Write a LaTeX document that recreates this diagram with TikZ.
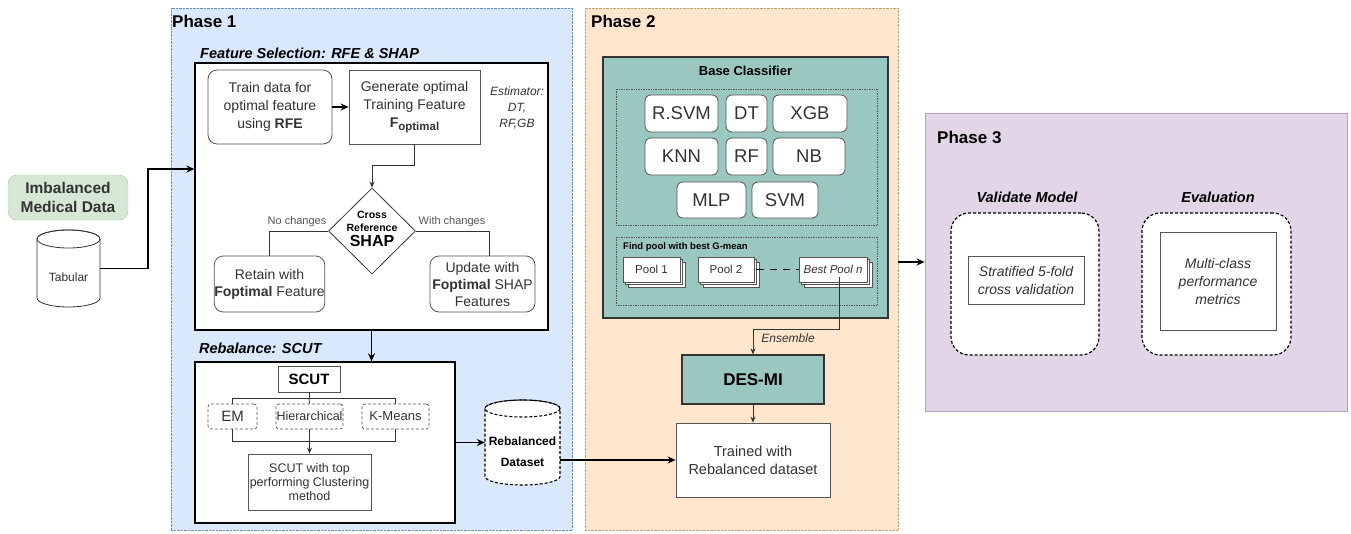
\documentclass[tikz,border=0pt]{standalone}
\usepackage{fontspec}
\setmainfont{Liberation Sans}
\usetikzlibrary{shapes.geometric,shadows,arrows.meta,calc}
\definecolor{pAfill}{HTML}{DAE8FC}
\definecolor{pAline}{HTML}{6C8EBF}
\definecolor{pBfill}{HTML}{FFE6CC}
\definecolor{pBline}{HTML}{C8A070}
\definecolor{pCfill}{HTML}{E1D5E7}
\definecolor{pCline}{HTML}{B79FC6}
\definecolor{tealbox}{HTML}{9AC7BF}
\definecolor{gfill}{HTML}{D5E8D4}
\definecolor{gline}{HTML}{A9CC98}
\definecolor{ink}{HTML}{333333}
\definecolor{edge}{HTML}{555555}
\newcommand\fsz[2]{\fontsize{#1}{#2}\selectfont}
\begin{document}
\begin{tikzpicture}[x=1pt,y=-1pt,
  every node/.style={inner sep=0pt, text=ink},
  sz/.style 2 args={minimum width=#1, minimum height=#2},
  plain/.style={draw=edge, fill=white, line width=0.8pt},
  rnd/.style={plain, rounded corners=9pt},
  main/.style={draw=black, fill=white, line width=1.3pt},
  dbox/.style={draw=edge, densely dashed, fill=white, rounded corners=3pt, line width=0.7pt},
  cls/.style={rnd, draw=edge, rounded corners=6pt, font=\fsz{18.5}{20}},
  pool/.style={plain, font=\fsz{11.5}{13}, double copy shadow={shadow xshift=2.5pt, shadow yshift=-2.5pt, draw=edge, fill=white}},
  big/.style={-{Stealth[length=8pt,width=7pt]}, line width=1.4pt, draw=black},
  conn/.style={draw=ink, line width=0.8pt},
  tip/.style={-{Stealth[length=6pt,width=5pt]}},
  title/.style={font=\bfseries\itshape\fsz{14.5}{16}, text=black},
  phase/.style={font=\bfseries\fsz{17}{19}, text=black, anchor=west},
  vbox/.style={draw=black, densely dashed, line width=1.2pt, fill=white, rounded corners=18pt}
]
\useasboundingbox (0,0) rectangle (1351,533);

% phase panels
\node[sz={401}{522}, fill=pAfill, draw=pAline, densely dotted] (ph1) at (371.5,269) {};
\node[sz={313}{522}, fill=pBfill, draw=pBline, densely dotted] (ph2) at (741.5,269) {};
\node[sz={422}{298}, fill=pCfill, draw=pCline, line width=0.8pt] (ph3) at (1136,262) {};
\node[phase] (lp1) at (172,21) {Phase 1};
\node[phase] (lp2) at (591,21) {Phase 2};
\node[phase] (lp3) at (937,137) {Phase 3};

% input data
\node[sz={120}{45}, fill=gfill, draw=gline, rounded corners=9pt, align=center,
      font=\bfseries\fsz{15.5}{19}] (imb) at (68,197.5) {Imbalanced\\Medical Data};
\node[sz={63}{77}] (tab) at (68.5,268.5) {};
\draw[draw=ink, fill=white, line width=0.8pt] (37,239) -- (37,298)
  arc[start angle=180, end angle=0, x radius=31.5, y radius=9] -- (100,239)
  arc[start angle=0, end angle=-180, x radius=31.5, y radius=9] -- cycle;
\draw[draw=ink, line width=0.8pt] (68.5,239) ellipse[x radius=31.5, y radius=9];
\node[font=\fsz{12}{14}] (tabtxt) at (68.5,277) {Tabular};

% feature selection
\node[title, anchor=west] (fstitle) at (200,53) {Feature Selection: RFE \& SHAP};
\node[main, sz={353}{267}] (fs) at (371.5,196.5) {};
\node[rnd, sz={124}{74}, align=center, font=\fsz{14}{18}] (train) at (270,107)
  {Train data for\\optimal feature\\using \textbf{RFE}};
\node[plain, sz={131}{74}, align=center, font=\fsz{14}{18}] (gen) at (414.5,107)
  {Generate optimal\\Training Feature\\\textbf{F\raisebox{-0.45ex}{\fsz{11.5}{12}optimal}}};
\node[align=center, font=\itshape\fsz{12}{16}] (est) at (517,108) {Estimator:\\DT,\\RF,GB};
\node[diamond, draw=ink, fill=white, line width=0.8pt, sz={87}{86}] (dia) at (372,231) {};
\node[align=center, font=\bfseries\fsz{10.5}{13}, text=black] (diatxt) at (372,229)
  {Cross\\Reference\\[2pt]{\fsz{16}{17}SHAP}};
\node[rnd, sz={105}{56}, align=center, font=\fsz{14}{17}] (retain) at (269.5,284)
  {Retain with\\\textbf{Foptimal} Feature};
\node[rnd, sz={105}{56}, align=center, font=\fsz{14}{17}] (update) at (482.5,284)
  {Update with\\\textbf{Foptimal} SHAP\\Features};
\node[font=\fsz{11}{13}, text=edge] (nochg) at (297,222) {No changes};
\node[font=\fsz{11}{13}, text=edge] (withchg) at (452,222) {With changes};

\draw[big] (train.east) -- (gen.west);
\draw[conn, tip, line width=1pt] (gen.south) -- ++(0,21) -| (dia.north);
\draw[conn] (dia.west) -| (retain.north);
\draw[conn] (dia.east) -| ([xshift=6.5pt]update.north);

% rebalance
\node[title, anchor=west] (rbtitle) at (199,348) {Rebalance: SCUT};
\node[main, sz={260}{161}] (rebox) at (325,442.5) {};
\node[plain, sz={62}{26}, font=\bfseries\fsz{15}{17}, text=black] (scut) at (309,379) {SCUT};
\node[dbox, sz={49}{25}, font=\fsz{15}{17}] (em) at (232.5,416.5) {EM};
\node[dbox, sz={67}{25}, font=\fsz{12.5}{14}] (hier) at (309.5,416.5) {Hierarchical};
\node[dbox, sz={67}{25}, font=\fsz{13}{15}] (km) at (395.5,416.5) {K-Means};
\node[plain, sz={123}{56}, align=center, font=\fsz{12.5}{14}] (scutw) at (309.5,482)
  {SCUT with top\\performing Clustering\\method};
\draw[conn] (scut.south) -- ++(0,6) coordinate (j1);
\draw[conn] (em.north) |- (j1) -| (km.north);
\draw[conn] (hier.north) -- (j1);
\draw[conn] (em.south) -- ++(0,12) coordinate (j2) -| (km.south);
\draw[conn, tip] (hier.south) -- (scutw.north);

% rebalanced dataset
\node[sz={75}{85}] (rebal) at (522.5,442.5) {};
\draw[draw=black, fill=white, densely dashed, line width=1.1pt] (485,408.5) -- (485,476.5)
  arc[start angle=180, end angle=0, x radius=37.5, y radius=8.5] -- (560,408.5)
  arc[start angle=0, end angle=-180, x radius=37.5, y radius=8.5] -- cycle;
\draw[draw=black, densely dashed, line width=1.1pt] (522.5,408.5) ellipse[x radius=37.5, y radius=8.5];
\node[align=center, font=\bfseries\fsz{12}{21}, text=black] (rebtxt) at (522.5,452) {Rebalanced\\Dataset};

% base classifiers
\node[sz={285}{261}, fill=tealbox, draw=black!80, line width=1.1pt] (base) at (745.5,187.5) {};
\node[font=\bfseries\fsz{13}{15}, text=black] (basetxt) at (745.5,71) {Base Classifier};
\node[sz={261}{136}, draw=edge, densely dotted, line width=0.7pt] (grpA) at (746.5,157) {};
\node[sz={261}{68}, draw=edge, densely dotted, line width=0.7pt] (grpB) at (746.5,271) {};
\node[cls, sz={73}{37}] (rsvm) at (681.5,113.5) {R.SVM};
\node[cls, sz={41}{37}] (dt) at (746.5,113.5) {DT};
\node[cls, sz={74}{37}] (xgb) at (810,113.5) {XGB};
\node[cls, sz={73}{37}] (knn) at (681.5,156.5) {KNN};
\node[cls, sz={41}{37}] (rf) at (746.5,156.5) {RF};
\node[cls, sz={72}{37}] (nb) at (809,156.5) {NB};
\node[cls, sz={69}{36}] (mlp) at (711.5,200) {MLP};
\node[cls, sz={66}{36}] (svm) at (785,200) {SVM};
\node[anchor=west, font=\bfseries\fsz{9.5}{11}, text=black] (findtxt) at (623,247) {Find pool with best G-mean};
\node[pool, sz={57}{25}] (pa) at (651.5,269.5) {Pool 1};
\node[pool, sz={56}{25}] (pb) at (726,269.5) {Pool 2};
\node[pool, sz={68}{25}, font=\itshape\fsz{11.5}{13}] (pn) at (833,269.5) {Best Pool \textit{n}};
\draw[draw=black, line width=1.6pt, dash pattern=on 7pt off 6pt] ([xshift=3pt]pb.east) -- (pn.west);

% ensemble
\node[sz={142}{49}, fill=tealbox, draw=black!80, line width=1.1pt, font=\bfseries\fsz{17}{19}, text=black] (desmi) at (753,379.5) {DES-MI};
\node[plain, sz={154}{74}, align=center, font=\fsz{14.5}{18}] (trained) at (753,460) {Trained with\\Rebalanced dataset};
\draw[conn, tip] ([xshift=6pt, yshift=5pt]pn.south) |- ($(desmi.north)+(0,-25)$) -- (desmi.north);
\node[font=\itshape\fsz{12}{14}] (ens) at (788,338) {Ensemble};
\draw[conn, tip] (desmi.south) -- (trained.north);

% phase 3
\node[title] (vtitle) at (1027,197) {Validate Model};
\node[title] (etitle) at (1218,197) {Evaluation};
\node[vbox, sz={148}{142}] (vbox) at (1025,284) {};
\node[vbox, sz={149}{142}] (ebox) at (1216.5,284) {};
\node[plain, sz={116}{48}, align=center, font=\itshape\fsz{14}{18}] (strat) at (1026,280)
  {Stratified 5-fold\\cross validation};
\node[plain, sz={116}{98}, align=center, font=\itshape\fsz{14}{18}] (multi) at (1218,281)
  {Multi-class\\performance\\metrics};

% main flow
\coordinate (bend) at (148,169);
\draw[big] (tab.east) -| (bend) -- (bend -| fs.west);
\draw[big] (fs.south) -- (fs.south |- rebox.north);
\draw[big] (rebox.east |- rebal.west) -- (rebal.west);
\draw[big] (rebal.east |- trained.west) -- (trained.west);
\draw[big] (ph2.east |- ph3.west) -- (ph3.west);
\end{tikzpicture}
\end{document}
